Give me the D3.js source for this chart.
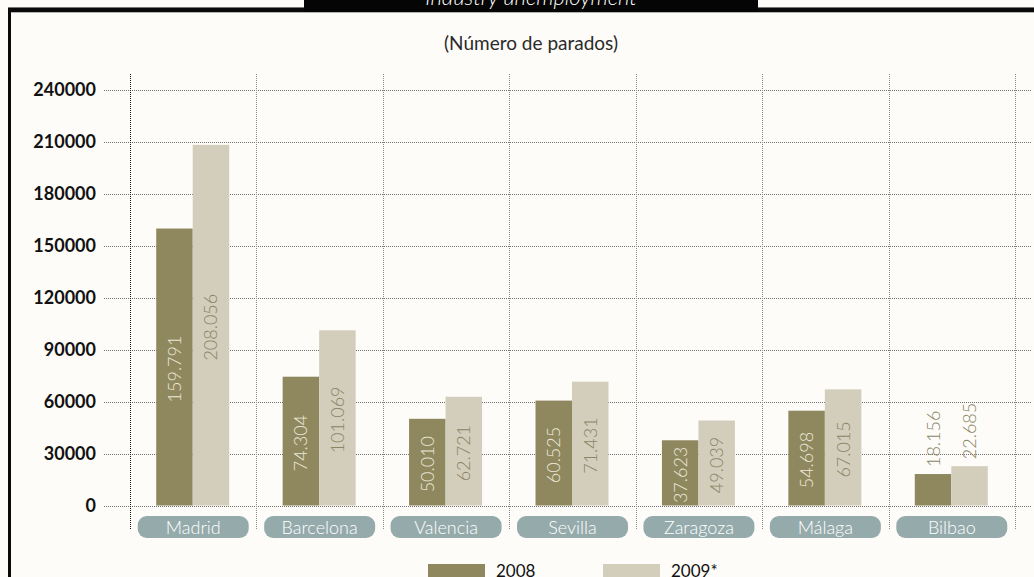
<!DOCTYPE html>
<html>
<head>
<meta charset="utf-8">
<script src="https://cdn.jsdelivr.net/npm/d3@7"></script>
<style>
  html, body { margin: 0; padding: 0; background: #fdfcf8; }
  svg { display: block; }
</style>
</head>
<body>
<svg id="chart" width="1034" height="577"></svg>
<script>
const categories = ["Madrid", "Barcelona", "Valencia", "Sevilla", "Zaragoza", "Málaga", "Bilbao"];
const seriesNames = ["2008", "2009*"];
const values2008 = [159791, 74304, 50010, 60525, 37623, 54698, 18156];
const values2009 = [208056, 101069, 62721, 71431, 49039, 67015, 22685];
const labels2008 = ["159.791", "74.304", "50.010", "60.525", "37.623", "54.698", "18.156"];
const labels2009 = ["208.056", "101.069", "62.721", "71.431", "49.039", "67.015", "22.685"];
const yTicks = [0, 30000, 60000, 90000, 120000, 150000, 180000, 210000, 240000];
const titleText = "Industry unemployment";
const subtitleText = "(Número de parados)";

const colors = { "2008": "#8f885f", "2009*": "#d3cdbc" };
const labelColors = { "2008": "#ebe7d7", "2009*": "#8a8565" };
const outsideLabelColor = "#8a8565";

const svg = d3.select("#chart");
const font = "Lato, 'Open Sans', sans-serif";

// background
svg.append("rect").attr("width", 1034).attr("height", 577).attr("fill", "#fdfcf8");

// frame
svg.append("line").attr("x1", 8).attr("x2", 1034).attr("y1", 7.5).attr("y2", 7.5)
  .attr("stroke", "#777").attr("stroke-width", 1);
svg.append("rect").attr("x", 8).attr("y", 8).attr("width", 1026).attr("height", 4.3).attr("fill", "#0a0a0a");
svg.append("rect").attr("x", 8).attr("y", 8).attr("width", 3).attr("height", 569).attr("fill", "#0a0a0a");

// title box
svg.append("rect").attr("x", 304).attr("y", 0).attr("width", 454).attr("height", 12).attr("fill", "#050505");
svg.append("text").attr("x", 531).attr("y", 5).attr("text-anchor", "middle")
  .attr("font-family", font).attr("font-style", "italic").attr("font-weight", 300)
  .attr("font-size", 22).attr("fill", "#ffffff").text(titleText);

// subtitle
svg.append("text").attr("x", 531).attr("y", 50).attr("text-anchor", "middle")
  .attr("font-family", font).attr("font-weight", 400).attr("font-size", 19)
  .attr("fill", "#2a2a2a").text(subtitleText);

// scales
const y = d3.scaleLinear().domain([0, 240000]).range([505.5, 89.5]);
const x0 = d3.scaleBand().domain(categories).range([130, 1015]).padding(0);
const bw = x0.bandwidth();
const x1 = d3.scaleBand().domain(seriesNames).range([bw / 2 - 37, bw / 2 + 36]).padding(0);

// horizontal gridlines
svg.append("g").selectAll("line").data(yTicks).join("line")
  .attr("x1", 104).attr("x2", 1031)
  .attr("y1", d => Math.round(y(d)) + 0.5).attr("y2", d => Math.round(y(d)) + 0.5)
  .attr("stroke", "#707070").attr("stroke-width", 1).attr("stroke-dasharray", "1,1");

// vertical gridlines (band boundaries)
const vBounds = categories.map(c => x0(c)).concat([x0(categories[categories.length - 1]) + bw]);
svg.append("g").selectAll("line").data(vBounds).join("line")
  .attr("x1", d => Math.round(d) + 0.5).attr("x2", d => Math.round(d) + 0.5)
  .attr("y1", 74).attr("y2", 530)
  .attr("stroke", (d, i) => i === 0 ? "#111" : "#8a8a8a")
  .attr("stroke-width", 1).attr("stroke-dasharray", "1,1");

// y axis labels
svg.append("g").selectAll("text").data(yTicks).join("text")
  .attr("x", 96).attr("y", d => y(d)).attr("dy", "0.36em")
  .attr("text-anchor", "end").attr("font-family", font).attr("font-weight", 700)
  .attr("font-size", 18).attr("fill", "#111").text(d => d);

// bars
const rows = categories.map((c, i) => ({
  cat: c,
  items: [
    { s: "2008", v: values2008[i], lab: labels2008[i] },
    { s: "2009*", v: values2009[i], lab: labels2009[i] }
  ]
}));

const groups = svg.append("g").selectAll("g").data(rows).join("g")
  .attr("transform", d => `translate(${x0(d.cat)},0)`);

groups.selectAll("rect").data(d => d.items).join("rect")
  .attr("x", d => x1(d.s)).attr("width", x1.bandwidth())
  .attr("y", d => y(d.v)).attr("height", d => y(0) - y(d.v))
  .attr("fill", d => colors[d.s]);

// value labels (rotated)
groups.selectAll("text.val").data(d => d.items).join("text")
  .attr("class", "val")
  .each(function (d) {
    const cx = x1(d.s) + x1.bandwidth() / 2;
    const barH = y(0) - y(d.v);
    const inside = barH > 50;
    const cy = inside ? (y(d.v) + y(0)) / 2 + 2 : y(d.v) - 7;
    d3.select(this)
      .attr("transform", `translate(${cx},${cy}) rotate(-90)`)
      .attr("text-anchor", inside ? "middle" : "start")
      .attr("dy", "0.36em")
      .attr("fill", inside ? labelColors[d.s] : outsideLabelColor);
  })
  .attr("font-family", font).attr("font-weight", 300).attr("font-size", 18)
  .text(d => d.lab);

// category label boxes
const catG = svg.append("g").selectAll("g").data(categories).join("g")
  .attr("transform", c => `translate(${x0(c) + bw / 2},0)`);
catG.append("rect").attr("x", -55.5).attr("y", 516).attr("width", 111).attr("height", 22)
  .attr("rx", 9).attr("fill", "#95abab");
catG.append("text").attr("x", 0).attr("y", 533.5).attr("text-anchor", "middle")
  .attr("font-family", font).attr("font-weight", 300).attr("font-size", 18)
  .attr("fill", "#ffffff").text(c => c);

// legend
const legendX = d3.scalePoint().domain(seriesNames).range([428, 603]);
const lg = svg.append("g").selectAll("g").data(seriesNames).join("g")
  .attr("transform", s => `translate(${legendX(s)},564)`);
lg.append("rect").attr("width", 57).attr("height", 16).attr("fill", s => colors[s]);
lg.append("text").attr("x", 68).attr("y", 13).attr("font-family", font)
  .attr("font-weight", 400).attr("font-size", 17).attr("fill", "#111").text(s => s);
</script>
</body>
</html>
